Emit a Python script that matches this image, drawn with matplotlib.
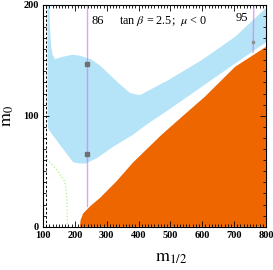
import numpy as np
import matplotlib
matplotlib.use("Agg")
import matplotlib.pyplot as plt
from matplotlib.ticker import MultipleLocator

plt.rcParams['font.family'] = ['Liberation Serif', 'DejaVu Serif']
plt.rcParams['mathtext.fontset'] = 'stix'

# region boundaries (m_1/2, m_0)
blue_upper_x = [120, 122, 125, 130, 138, 160, 194, 216, 250, 280, 335, 373, 404, 493, 598, 703, 800]
blue_upper_y = [200, 180, 164, 155, 151, 153, 155, 154, 151, 145, 130, 120.5, 118.5, 132, 150, 171, 197]
blue_lower_x = [114, 114, 117, 150, 195, 216, 235, 270, 320, 383, 430, 493, 598, 703, 800]
blue_lower_y = [200, 95, 88, 75, 58, 57, 57, 62, 72, 83, 93, 105, 126, 147, 166]

orange_x = [216, 218, 226, 250, 279, 331, 383, 473, 540, 608, 703, 800, 800]
orange_y = [0, 6, 12, 19, 26, 41, 58, 83, 100, 117, 144, 162, 0]

green_x = [106, 138, 156, 166, 172, 175, 177]
green_y = [63, 53, 46, 42, 36, 24, 0]

chargino_x = 108

h86_x = [237, 237]
h86_y = [200, 19]
h86_marks = [146.7, 65.3]
h95_x = [762, 760]
h95_y = [200, 157]
h95_marks = [166]

fig = plt.figure(figsize=(2.73, 2.70), dpi=100)
ax = fig.add_axes([0.1575, 0.160, 0.8165, 0.8226])

bx = blue_upper_x + blue_lower_x[::-1]
by = blue_upper_y + blue_lower_y[::-1]
ax.fill(bx, by, color='#b5e4f8', lw=0)
ax.fill(orange_x, orange_y, color='#ee6600', lw=0)

ax.plot(green_x, green_y, ls=':', color='#b0ee98', lw=0.9)
ax.axvline(chargino_x, color='black', ls='--', lw=0.7, dashes=(2.5, 2))

ax.plot(h86_x, h86_y, color='#cc77ee', alpha=0.65, lw=1.0)
ax.plot([h86_x[0]] * len(h86_marks), h86_marks, 's', color='#707070', ms=2.2)
ax.plot(h95_x, h95_y, color='#cc77ee', alpha=0.65, lw=1.0)
ax.plot([h95_x[1]] * len(h95_marks), h95_marks, 's', color='#909090', ms=2.0)

ax.text(271, 185.5, '86', fontsize=9, ha='center', va='center')
ax.text(725, 188, '95', fontsize=9, ha='center', va='center')
ax.text(340, 185.5, r'tan $\beta$ = 2.5;  $\mu$ < 0', fontsize=8.7, ha='left', va='center')

ax.set_xlim(100, 800)
ax.set_ylim(0, 200)
ax.xaxis.set_major_locator(MultipleLocator(100))
ax.xaxis.set_minor_locator(MultipleLocator(10))
ax.yaxis.set_major_locator(MultipleLocator(100))
ax.yaxis.set_minor_locator(MultipleLocator(10))
ax.tick_params(which='both', direction='in', top=True, right=True, width=0.6)
ax.tick_params(which='major', length=4, labelsize=7.5, pad=3)
ax.tick_params(which='minor', length=2)
for lab in ax.get_xticklabels() + ax.get_yticklabels():
    lab.set_fontweight('bold')
for s in ax.spines.values():
    s.set_linewidth(0.8)

ax.set_xlabel(r'$\mathrm{m}_{1/2}$', fontsize=13, labelpad=2)
ax.xaxis.set_label_coords(0.575, -0.10)
ax.set_ylabel(r'$\mathrm{m}_0$', fontsize=13, labelpad=5)

fig.savefig('out.png', dpi=100)
